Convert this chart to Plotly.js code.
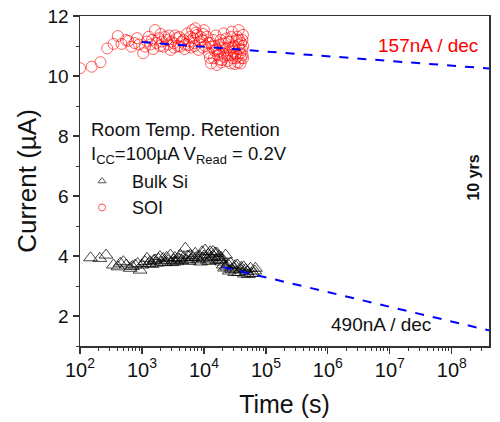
<!DOCTYPE html>
<html>
<head>
<meta charset="utf-8">
<script src="https://cdn.plot.ly/plotly-3.0.1.min.js"></script>
<style>html,body{margin:0;padding:0;background:#fff;}#chart{width:500px;height:422px;}</style>
</head>
<body>
<div id="chart"></div>
<script>
// SOI retention data: time (s), current (µA)
const soiTime = [100,155,214,275,347,407,468,550,603,676,760,832,900,1047,1122,1200,1288,1380,1445,1520,1622,1700,1862,1950,2000,2100,2239,2350,2512,2650,2700,2884,3000,3236,3300,3400,3631,3800,4000,4169,4400,4677,4900,5000,5370,5623,5800,6000,6200,6457,6761,7000,7100,7244,7500,7762,8128,8600,8900,9333,9500,9700,10000,10500,11220,11800,12023,12500,12800,13000,13490,14000,14454,14800,15000,15500,16000,16218,16800,17378,17800,18000,18621,19000,19498,20000,20500,20893,21500,22000,22387,23000,23442,24200,24500,25119,26000,26915,27000,27500,28184,28800,29000,30200,31000,31500,32359,33000,33500,34674,35000,35500,36308,36308,37000,37500,38905,38905,39500,40000,41687,41687,42000,42658,42658,43000];
const soiCurrent = [10.26,10.31,10.46,10.92,11.07,11.33,11.07,11.2,11.17,10.98,11.1,11.26,11.05,10.76,10.98,11.15,11.31,11.05,11.2,10.9,11.53,11.1,11.26,11.0,11.4,11.15,10.98,11.3,11.2,11.05,11.35,10.87,11.15,11.09,10.95,11.35,11.26,11.0,11.3,10.98,11.15,11.2,10.9,11.05,11.42,11.03,11.15,11.3,10.95,11.53,11.26,11.1,11.0,11.59,11.45,11.37,10.87,11.15,11.3,11.2,10.95,11.4,11.53,11.0,11.31,11.1,10.76,10.6,11.1,10.42,10.98,11.2,10.59,11.0,10.85,11.35,10.9,10.37,10.7,10.81,10.55,11.05,11.2,10.45,10.53,10.95,10.75,11.42,10.65,11.1,10.92,11.25,10.7,10.5,10.95,11.14,10.85,10.42,10.7,11.3,11.48,10.95,10.6,10.81,11.0,10.4,10.59,10.75,11.2,11.31,10.65,10.45,11.53,11.03,11.2,10.9,10.76,10.42,10.6,11.1,11.2,10.87,10.7,11.37,10.59,11.0];

// Bulk Si retention data: time (s), current (µA)
const bulkTime = [148,209,263,347,410,447,501,560,646,700,776,850,933,1000,1122,1202,1300,1349,1450,1550,1622,1750,1850,1950,2050,2200,2350,2500,2650,2884,3000,3236,3300,3400,3631,3800,4000,4169,4400,4700,5012,5200,5500,5800,6026,6300,6700,7244,7500,8128,8500,8800,9333,9700,10000,10471,11220,11800,12000,12589,13200,14000,14454,15200,16000,16218,17000,17500,18621,19000,19500,20500,21500,22387,23442,24500,25500,26915,28000,30200,31500,32000,34674,36000,38905,40000,43652,45000,47000,50119,52000,56234,58000,63096,66000,67608];
const bulkCurrent = [3.94,3.92,4.03,3.70,3.64,3.76,3.81,3.70,3.59,3.65,3.70,3.75,3.53,3.70,3.81,3.92,3.75,3.81,3.72,3.85,3.87,3.76,3.90,3.98,3.80,3.92,3.78,3.95,3.85,4.03,3.78,3.87,3.80,3.95,3.81,3.92,3.90,4.03,3.85,3.95,4.26,3.87,4.00,3.82,4.03,3.90,3.95,4.09,3.95,3.87,4.00,3.80,4.14,3.92,4.00,4.20,3.87,4.05,3.82,4.14,3.95,4.15,3.98,4.10,3.85,4.09,3.90,4.00,3.87,3.95,3.80,3.70,3.60,4.03,3.64,3.72,3.50,3.76,3.55,3.59,3.45,3.68,3.70,3.45,3.53,3.62,3.64,3.40,3.55,3.48,3.38,3.59,3.42,3.42,3.50,3.59];

// Extrapolation fits (log-linear): endpoints
const soiFitTime = [1000, 4e8];
const soiFitCurrent = [11.13, 10.25];
const bulkFitTime = [20000, 4e8];
const bulkFitCurrent = [3.63, 1.52];

const seriesNames = ['Bulk Si', 'SOI'];
const fitLabels = ['157nA / dec', '490nA / dec'];
const headerText = 'Room Temp. Retention<br>I<sub>CC</sub>=100µA V<sub>Read</sub> = 0.2V';

const FONT = 'Liberation Sans, Arial, sans-serif';
const pad = '\u00a0\u00a0';

const traces = [
  {x: soiTime, y: soiCurrent, type: 'scatter', mode: 'markers', showlegend: false,
   marker: {symbol: 'circle-open', size: 11, color: 'rgba(255,0,0,0.6)', line: {width: 1}}},
  {x: bulkTime, y: bulkCurrent, type: 'scatter', mode: 'markers', showlegend: false,
   marker: {symbol: 'triangle-up-open', size: 12, color: 'rgba(0,0,0,0.72)', line: {width: 1}}},
  {x: soiFitTime, y: soiFitCurrent, type: 'scatter', mode: 'lines', showlegend: false,
   line: {color: '#0000ff', width: 2, dash: 'dash'}},
  {x: bulkFitTime, y: bulkFitCurrent, type: 'scatter', mode: 'lines', showlegend: false,
   line: {color: '#0000ff', width: 2, dash: 'dash'}},
  {x: [null], y: [null], type: 'scatter', mode: 'markers', name: pad + seriesNames[0],
   marker: {symbol: 'triangle-up-open', size: 7, color: '#555', line: {width: 1}}},
  {x: [null], y: [null], type: 'scatter', mode: 'markers', name: pad + seriesNames[1],
   marker: {symbol: 'circle-open', size: 7, color: '#ff5555', line: {width: 1}}}
];

const layout = {
  width: 500, height: 422,
  margin: {l: 80, r: 11, t: 16, b: 76},
  paper_bgcolor: '#fff', plot_bgcolor: '#fff',
  font: {family: FONT, size: 18, color: '#111'},
  showlegend: true,
  legend: {x: 0.005, y: 0.555, xanchor: 'left', yanchor: 'top', bgcolor: 'rgba(0,0,0,0)',
           font: {family: FONT, size: 18, color: '#111'}, tracegroupgap: 0, itemwidth: 30},
  xaxis: {
    type: 'log', range: [2, 8.6], dtick: 1, exponentformat: 'power',
    showgrid: false, zeroline: false,
    showline: true, linecolor: '#333', linewidth: 1.5, mirror: true,
    ticks: 'outside', ticklen: 6, tickwidth: 1.2, tickcolor: '#333',
    minor: {ticks: 'outside', ticklen: 3, tickcolor: '#333', tickwidth: 1},
    tickfont: {family: FONT, size: 16, color: '#111'},
    title: {text: 'Time (s)', font: {family: FONT, size: 25, color: '#111'}, standoff: 16}
  },
  yaxis: {
    range: [1, 12], dtick: 2, showgrid: false, zeroline: false,
    showline: true, linecolor: '#333', linewidth: 1.5, mirror: true,
    ticks: 'outside', ticklen: 6, tickwidth: 1.2, tickcolor: '#333',
    minor: {ticks: 'outside', ticklen: 3, dtick: 1, tickcolor: '#333', tickwidth: 1},
    tickfont: {family: FONT, size: 19, color: '#111'},
    title: {text: 'Current (µA)', font: {family: FONT, size: 26, color: '#111'}, standoff: 3}
  },
  annotations: [
    {xref: 'paper', yref: 'paper', x: 0.022, y: 0.693, xanchor: 'left', yanchor: 'top', align: 'left',
     text: headerText, showarrow: false, font: {family: FONT, size: 18.5, color: '#111'}},
    {xref: 'paper', yref: 'paper', x: 0.978, y: 0.912, xanchor: 'right', yanchor: 'middle',
     text: fitLabels[0], showarrow: false, font: {family: FONT, size: 19, color: '#ff0000'}},
    {xref: 'paper', yref: 'paper', x: 0.61, y: 0.064, xanchor: 'left', yanchor: 'middle',
     text: fitLabels[1], showarrow: false, font: {family: FONT, size: 19, color: '#111'}},
    {xref: 'paper', yref: 'paper', x: 0.963, y: 0.51, xanchor: 'center', yanchor: 'middle', textangle: -90,
     text: '<b>10 yrs</b>', showarrow: false, font: {family: FONT, size: 16, color: '#111'}}
  ]
};

Plotly.newPlot('chart', traces, layout, {staticPlot: true, displayModeBar: false});
</script>
</body>
</html>
